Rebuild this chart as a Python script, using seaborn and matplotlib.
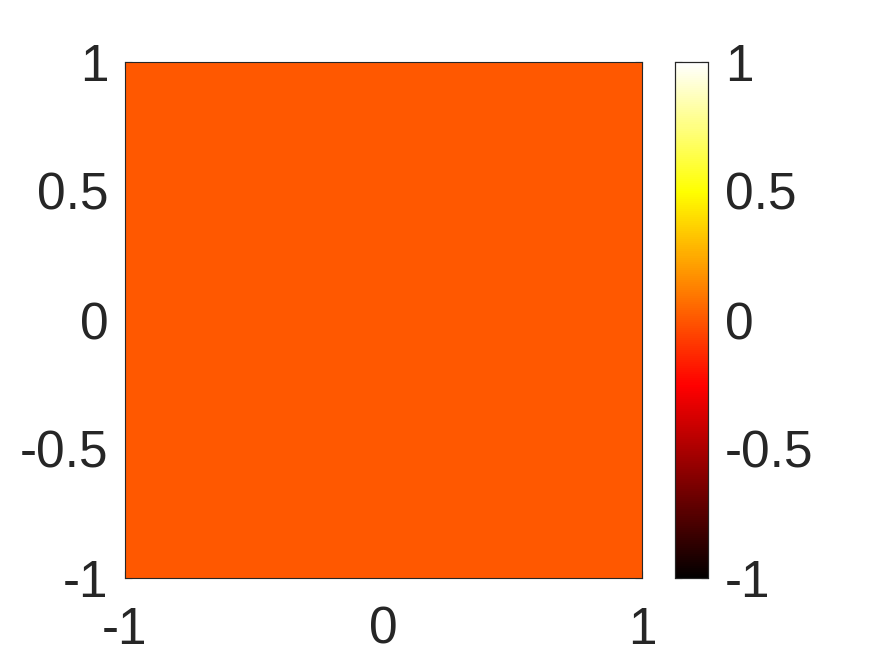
import numpy as np
import pandas as pd
import seaborn as sns
import matplotlib
matplotlib.use('Agg')
from matplotlib import pyplot as plt
from matplotlib.colors import ListedColormap

# 数据：在 [-1, 1] x [-1, 1] 上的常数场 (全为 0)
x_edges = [-1, 0, 1]
y_edges = [-1, 0, 1]
field = [[0.0, 0.0],
         [0.0, 0.0]]
x_ticks = [-1, 0, 1]
x_tick_labels = ['-1', '0', '1']
y_ticks = [-1, -0.5, 0, 0.5, 1]
y_tick_labels = ['-1', '-0.5', '0', '0.5', '1']
cbar_ticks = [-1, -0.5, 0, 0.5, 1]
cbar_labels = ['-1', '-0.5', '0', '0.5', '1']


def matlab_hot(m=256):
    # MATLAB 的 hot 色图
    n = int(3 / 8 * m)
    r = np.concatenate([np.arange(1, n + 1) / n, np.ones(m - n)])
    g = np.concatenate([np.zeros(n), np.arange(1, n + 1) / n, np.ones(m - 2 * n)])
    b = np.concatenate([np.zeros(2 * n), np.arange(1, m - 2 * n + 1) / (m - 2 * n)])
    return ListedColormap(np.column_stack([r, g, b]))


def to_cell(v, edges):
    # 数据坐标 -> heatmap 单元坐标
    return np.interp(v, edges, np.arange(len(edges)))


sns.set_theme(style='white')
plt.rcParams['font.family'] = ['Liberation Sans', 'DejaVu Sans']
text_color = '#262626'
fsize = 37

df = pd.DataFrame(field, index=y_edges[:-1], columns=x_edges[:-1])

fig = plt.figure(figsize=(8.75, 6.56), dpi=100)
ax = fig.add_axes([125 / 875, 78 / 656, 517 / 875, 516 / 656])
cax = fig.add_axes([675 / 875, 78 / 656, 33 / 875, 516 / 656])

sns.heatmap(df, ax=ax, cbar_ax=cax, cmap=matlab_hot(), vmin=-1, vmax=1,
            xticklabels=False, yticklabels=False, linewidths=0)
ax.invert_yaxis()

ax.set_xticks(to_cell(x_ticks, x_edges))
ax.set_xticklabels(x_tick_labels)
ax.set_yticks(to_cell(y_ticks, y_edges))
ax.set_yticklabels(y_tick_labels)
ax.set_xlabel('')
ax.set_ylabel('')
ax.tick_params(axis='both', direction='in', length=5, width=0.8, colors=text_color,
               labelsize=fsize, top=True, right=True, left=True, bottom=True)
ax.tick_params(axis='x', pad=20)
ax.tick_params(axis='y', pad=12)
for side in ax.spines.values():
    side.set_visible(True)
    side.set_color(text_color)
    side.set_linewidth(0.8)

cax.set_yticks(cbar_ticks)
cax.set_yticklabels(cbar_labels)
cax.tick_params(axis='y', direction='in', length=5, width=0.8, colors=text_color,
                labelsize=fsize, pad=12, left=True, right=True)
for side in cax.spines.values():
    side.set_visible(True)
    side.set_color(text_color)
    side.set_linewidth(0.8)

plt.savefig('out.png', dpi=100)
